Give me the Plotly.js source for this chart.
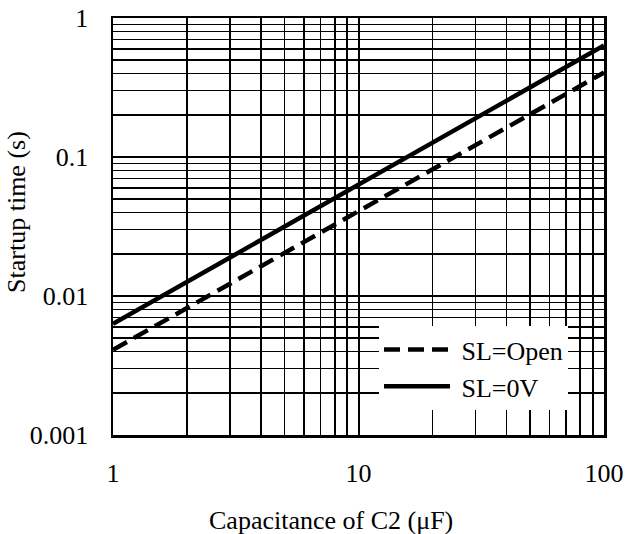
<!DOCTYPE html>
<html><head><meta charset="utf-8">
<script src="https://cdn.plot.ly/plotly-3.0.1.min.js"></script>
<style>html,body{margin:0;padding:0;background:#fff}#c{width:625px;height:534px}</style>
</head><body><div id="c"></div>
<script>
const capacitance = [1, 10, 100];
const slOpen = [0.0041, 0.041, 0.405];
const sl0V = [0.0063, 0.063, 0.635];
const xTickVals = [1, 10, 100];
const xTickText = ['1', '10', '100'];
const yTickVals = [0.001, 0.01, 0.1, 1];
const yTickText = ['0.001', '0.01', '0.1', '1'];
const xMinor = [2,3,4,5,6,7,8,9,20,30,40,50,60,70,80,90];
const yMinor = [0.002,0.003,0.004,0.005,0.006,0.007,0.008,0.009,0.02,0.03,0.04,0.05,0.06,0.07,0.08,0.09,0.2,0.3,0.4,0.5,0.6,0.7,0.8,0.9];
const xTitle = 'Capacitance of C2 (μF)';
const yTitle = 'Startup time (s)';

const font = {family: '"Liberation Serif", "Times New Roman", serif', size: 26, color: '#000'};
const traces = [
  {x: capacitance, y: slOpen, name: '\u00A0SL=Open', mode: 'lines', line: {color: '#000', width: 4.5, dash: '16px,8px'}},
  {x: capacitance, y: sl0V, name: '\u00A0SL=0V', mode: 'lines', line: {color: '#000', width: 4.5}}
];
const layout = {
  width: 625, height: 534,
  margin: {l: 113, r: 21, t: 18, b: 99},
  paper_bgcolor: '#fff', plot_bgcolor: '#fff',
  font: font,
  showlegend: true,
  legend: {x: 0.5418, y: 0.261, xanchor: 'left', yanchor: 'top', bgcolor: '#fff', borderwidth: 0,
           font: font, itemwidth: 66, tracegroupgap: 0},
  xaxis: {type: 'log', range: [0, 2], tickmode: 'array', tickvals: xTickVals, ticktext: xTickText,
          showgrid: true, gridcolor: '#000', gridwidth: 2, showline: true, linecolor: '#000', linewidth: 2.5,
          mirror: true, ticks: '', ticklabelstandoff: 13, zeroline: false,
          minor: {tickmode: 'array', tickvals: xMinor, showgrid: true, gridcolor: '#000', gridwidth: 1.6, ticks: ''}},
  yaxis: {type: 'log', range: [-3, 0], tickmode: 'array', tickvals: yTickVals, ticktext: yTickText,
          showgrid: true, gridcolor: '#000', gridwidth: 2, showline: true, linecolor: '#000', linewidth: 2.5,
          mirror: true, ticks: '', ticklabelstandoff: 17, zeroline: false,
          minor: {tickmode: 'array', tickvals: yMinor, showgrid: true, gridcolor: '#000', gridwidth: 1.6, ticks: ''}},
  annotations: [
    {text: xTitle, xref: 'paper', yref: 'paper', x: 0.444, y: -0.204, xanchor: 'center', yanchor: 'middle',
     showarrow: false, font: font},
    {text: yTitle, xref: 'paper', yref: 'paper', x: -0.1955, y: 0.535, xanchor: 'center', yanchor: 'middle',
     textangle: -90, showarrow: false, font: font}
  ]
};
Plotly.newPlot('c', traces, layout, {displayModeBar: false, staticPlot: true});
</script></body></html>
